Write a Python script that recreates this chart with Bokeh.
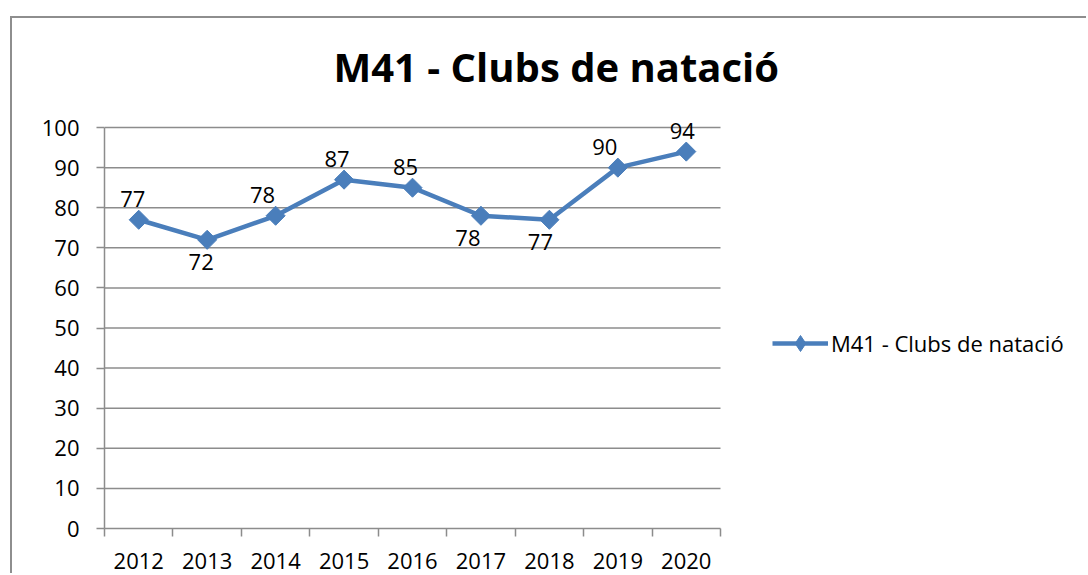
from bokeh.plotting import figure
from bokeh.models import (ColumnDataSource, FixedTicker, LabelSet, Legend, LegendItem)
from bokeh.core.properties import value
from bokeh.embed import file_html
from bokeh.resources import INLINE
import numpy as np

# ---- data ----
years = ["2012", "2013", "2014", "2015", "2016", "2017", "2018", "2019", "2020"]
values = [77, 72, 78, 87, 85, 78, 77, 90, 94]
series_name = "M41 - Clubs de natació"
title_text = "M41 - Clubs de natació"
y_ticks = [0, 10, 20, 30, 40, 50, 60, 70, 80, 90, 100]

# label placement (style only): above / below and small horizontal shift
label_side = ["above", "below", "above", "above", "above", "below", "below", "above", "above"]
label_dx = [-6, -6, -13, -7, -7, -13, -9, -13, -4]

FONT = "Open Sans"
GRAY = "#8c8c8c"
BLUE = "#4A7EBB"
FS = "22px"

n = len(years)
xpos = [i + 0.5 for i in range(n)]
ys_off = [13 if s == "above" else -14 for s in label_side]
base = ["bottom" if s == "above" else "top" for s in label_side]

src = ColumnDataSource(dict(x=xpos, y=values, lab=[str(v) for v in values],
                            yo=ys_off, xo=label_dx, base=base))

# frame: categories occupy 616 px on the left, the rest of the frame holds the legend
FRAME_W = 984
CAT_W = 616
x_end = n * FRAME_W / CAT_W

p = figure(width=1076, height=557, x_range=(0, x_end), y_range=(0, 105),
           output_backend="svg", toolbar_location=None, tools="",
           min_border_left=92, min_border_top=89, min_border_right=0,
           min_border_bottom=47)
p.margin = (16, 0, 0, 10)
p.styles = {"border-top": "2px solid #8e8e8e", "border-left": "2px solid #8e8e8e"}
p.outline_line_color = None
p.background_fill_color = "white"
p.border_fill_color = "white"

p.title.text = title_text
p.title.text_font = FONT
p.title.text_font_style = "bold"
p.title.text_font_size = "40px"
p.title.align = "left"
p.title.offset = 229
p.title.standoff = 27
p.title.text_color = "black"

# x axis: labels at centres, ticks at boundaries (minor ticks)
xa = p.xaxis[0]
xa.ticker = FixedTicker(ticks=xpos, minor_ticks=list(range(n + 1)))
xa.bounds = (0, n)
xa.major_label_overrides = {x: y for x, y in zip(xpos, years)}
xa.major_tick_line_color = None
xa.minor_tick_out = 8
xa.minor_tick_in = 0
xa.minor_tick_line_color = GRAY
xa.minor_tick_line_width = 1.5
xa.axis_line_color = GRAY
xa.axis_line_width = 1.5
xa.major_label_text_font = FONT
xa.major_label_text_font_size = FS
xa.major_label_text_color = "black"
xa.major_label_standoff = 16

ya = p.yaxis[0]
ya.ticker = FixedTicker(ticks=y_ticks)
ya.bounds = (y_ticks[0], y_ticks[-1])
ya.major_tick_out = 8
ya.major_tick_in = 0
ya.minor_tick_line_color = None
ya.major_tick_line_color = GRAY
ya.major_tick_line_width = 1.5
ya.axis_line_color = GRAY
ya.axis_line_width = 1.5
ya.major_label_text_font = FONT
ya.major_label_text_font_size = FS
ya.major_label_text_color = "black"
ya.major_label_standoff = 17

p.xgrid.grid_line_color = None
p.ygrid.grid_line_color = None
# horizontal gridlines limited to the category area
p.segment(x0=0, x1=n, y0=y_ticks[1:], y1=y_ticks[1:], line_color=GRAY, line_width=1.5)

ln = p.line("x", "y", source=src, line_color=BLUE, line_width=4.5)
leg_marker = p.scatter("x", "y", source=src, marker="diamond", size=12,
                       fill_color=BLUE, line_color=BLUE)
sc = p.scatter("x", "y", source=src, marker="square", size=13.5, angle=np.pi / 4,
               fill_color=BLUE, line_color=BLUE)

labels = LabelSet(x="x", y="y", text="lab", source=src, x_offset="xo", y_offset="yo",
                  text_align="center", text_baseline="base",
                  text_font=value(FONT), text_font_size=FS, text_color="black")
p.add_layout(labels)

legend = Legend(items=[LegendItem(label=series_name, renderers=[ln, leg_marker])],
                location=(668, 165), glyph_width=56, glyph_height=40,
                label_standoff=3, padding=0, margin=0, spacing=0,
                label_text_font=FONT, label_text_font_size=FS,
                label_text_color="black",
                border_line_color=None, background_fill_alpha=0)
p.add_layout(legend)

open("out.html", "w").write(file_html(p, INLINE))
